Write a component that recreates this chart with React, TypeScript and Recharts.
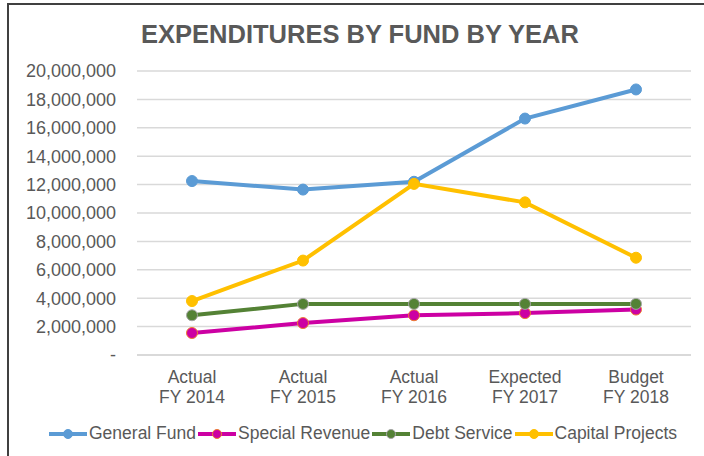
import { LineChart, Line, XAxis, YAxis, CartesianGrid } from "recharts";

const categories = [
  "Actual FY 2014",
  "Actual FY 2015",
  "Actual FY 2016",
  "Expected FY 2017",
  "Budget FY 2018",
];

const generalFund = [12250000, 11650000, 12200000, 16650000, 18700000];
const specialRevenue = [1550000, 2250000, 2800000, 2950000, 3200000];
const debtService = [2800000, 3600000, 3600000, 3600000, 3600000];
const capitalProjects = [3800000, 6650000, 12050000, 10750000, 6850000];

const yTicks = [0, 2000000, 4000000, 6000000, 8000000, 10000000, 12000000, 14000000, 16000000, 18000000, 20000000];

const SERIES = [
  { key: "general", name: "General Fund", values: generalFund, color: "#5B9BD5", ring: "#5B9BD5" },
  { key: "special", name: "Special Revenue", values: specialRevenue, color: "#CC00A3", ring: "#ED7D31" },
  { key: "debt", name: "Debt Service", values: debtService, color: "#548235", ring: "#A5A5A5" },
  { key: "capital", name: "Capital Projects", values: capitalProjects, color: "#FFC000", ring: "#FFC000" },
];

const data = categories.map((c, i) => {
  const row: Record<string, string | number> = { cat: c };
  SERIES.forEach((s) => (row[s.key] = s.values[i]));
  return row;
});

const FONT = "'Liberation Sans', Arial, sans-serif";
const TEXT = "#595959";

function fmtTick(v: number) {
  return v === 0 ? "-" : v.toLocaleString("en-US");
}

// two-line category label: first word, then the fiscal year
function CatTick({ x, y, payload }: any) {
  const label: string = payload.value;
  const idx = label.indexOf(" ");
  const top = label.slice(0, idx);
  const bottom = label.slice(idx + 1);
  return (
    <text x={x} y={y} textAnchor="middle" fill={TEXT} fontSize={17.5} fontFamily={FONT}>
      <tspan x={x} dy={20}>{top}</tspan>
      <tspan x={x} dy={20}>{bottom}</tspan>
    </text>
  );
}

function LegendItem({ name, color, ring }: { name: string; color: string; ring: string }) {
  return (
    <div style={{ display: "flex", alignItems: "center" }}>
      <svg width={40} height={12}>
        <line x1={1} y1={6} x2={39} y2={6} stroke={color} strokeWidth={4} />
        <circle cx={20} cy={6} r={4.5} fill={color} stroke={ring} strokeWidth={1} />
      </svg>
      <span style={{ marginLeft: 1, marginRight: 1 }}>{name}</span>
    </div>
  );
}

export default function App() {
  return (
    <div
      style={{
        position: "absolute",
        left: 0,
        top: 0,
        width: 704,
        height: 456,
        overflow: "hidden",
        background: "#fff",
        fontFamily: FONT,
      }}
    >
      <div
        style={{
          position: "absolute",
          left: 7,
          top: 3,
          width: 720,
          height: 480,
          border: "2px solid #404040",
        }}
      />
      <div
        style={{
          position: "absolute",
          left: 0,
          top: 20,
          width: 720,
          textAlign: "center",
          fontSize: 25.5,
          fontWeight: "bold",
          color: TEXT,
        }}
      >
        EXPENDITURES BY FUND BY YEAR
      </div>
      <div style={{ position: "absolute", left: 0, top: 0 }}>
        <LineChart width={704} height={456} data={data} margin={{ top: 71, right: 13, left: 0, bottom: 0 }}>
          <CartesianGrid vertical={false} stroke="#D9D9D9" strokeWidth={1.5} />
          <XAxis
            dataKey="cat"
            height={101}
            tick={<CatTick />}
            tickLine={false}
            axisLine={{ stroke: "#D9D9D9", strokeWidth: 2 }}
            padding={{ left: 55, right: 55 }}
            interval={0}
          />
          <YAxis
            width={137}
            domain={[0, 20000000]}
            ticks={yTicks}
            tickFormatter={fmtTick}
            tick={{ fontSize: 18, fill: TEXT, fontFamily: FONT }}
            tickLine={false}
            axisLine={false}
            tickMargin={15}
          />
          {SERIES.map((s) => (
            <Line
              key={s.key}
              dataKey={s.key}
              name={s.name}
              stroke={s.color}
              strokeWidth={4}
              dot={{ r: 5.5, fill: s.color, stroke: s.ring, strokeWidth: 1 }}
              isAnimationActive={false}
            />
          ))}
        </LineChart>
      </div>
      <div
        style={{
          position: "absolute",
          left: 48,
          top: 423,
          display: "flex",
          fontSize: 17.5,
          color: TEXT,
          whiteSpace: "nowrap",
        }}
      >
        {SERIES.map((s) => (
          <LegendItem key={s.key} name={s.name} color={s.color} ring={s.ring} />
        ))}
      </div>
    </div>
  );
}
